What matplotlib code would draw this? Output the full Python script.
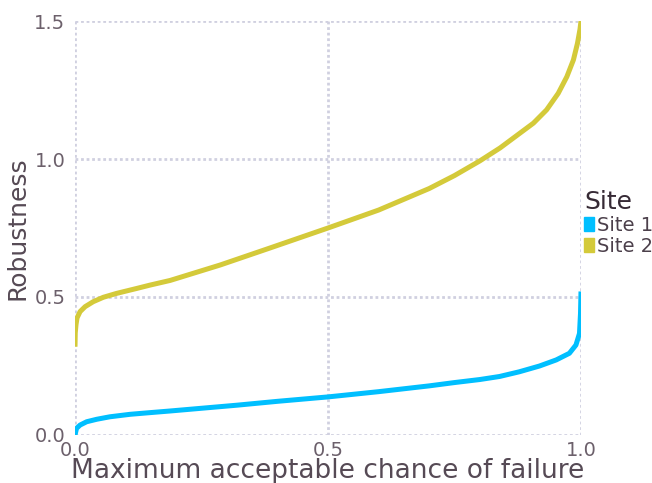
import matplotlib
matplotlib.use("Agg")
import matplotlib.pyplot as plt
from matplotlib.patches import Patch

# values
site1_x = [0.0, 0.003, 0.01, 0.023, 0.043, 0.069, 0.109, 0.148, 0.188, 0.32,
           0.4, 0.5, 0.6, 0.7, 0.75, 0.8, 0.839, 0.878, 0.918, 0.951, 0.977,
           0.99, 0.997, 0.999, 1.0]
site1_y = [0.0, 0.024, 0.036, 0.048, 0.057, 0.066, 0.075, 0.081, 0.087, 0.108,
           0.122, 0.138, 0.157, 0.178, 0.19, 0.201, 0.212, 0.229, 0.25, 0.272, 0.296,
           0.326, 0.368, 0.44, 0.52]

site2_x = [0.0, 0.0005, 0.002, 0.004, 0.01, 0.02, 0.036, 0.056, 0.082, 0.122,
           0.148, 0.188, 0.287, 0.386, 0.5, 0.6, 0.7, 0.75, 0.8, 0.84, 0.873,
           0.906, 0.932, 0.955, 0.972, 0.985, 0.993, 0.998, 1.0]
site2_y = [0.32, 0.37, 0.40, 0.424, 0.447, 0.465, 0.483, 0.499, 0.513, 0.531,
           0.543, 0.56, 0.616, 0.678, 0.75, 0.815, 0.893, 0.94, 0.993, 1.04, 1.085,
           1.13, 1.178, 1.238, 1.298, 1.359, 1.419, 1.47, 1.5]

series = ["Site 1", "Site 2"]
colors = ["#00BFFF", "#D4CA3A"]

x_ticks = [0.0, 0.5, 1.0]
y_ticks = [0.0, 0.5, 1.0, 1.5]

W, H = 652, 483
fig = plt.figure(figsize=(W / 100, H / 100), dpi=100)
ax = fig.add_axes([75 / W, (H - 435) / H, 506 / W, 414 / H])

ax.plot(site1_x, site1_y, color=colors[0], lw=3.6, solid_capstyle="butt",
        solid_joinstyle="round", zorder=3)
ax.plot(site2_x, site2_y, color=colors[1], lw=3.6, solid_capstyle="butt",
        solid_joinstyle="round", zorder=3)

ax.set_xlim(0, 1)
ax.set_ylim(0, 1.5)
ax.set_xticks(x_ticks)
ax.set_yticks(y_ticks)
ax.set_xticklabels([f"{v:.1f}" for v in x_ticks])
ax.set_yticklabels([f"{v:.1f}" for v in y_ticks])
for s in ax.spines.values():
    s.set_visible(False)
ax.tick_params(length=0, labelsize=14, labelcolor="#6c606b")
ax.tick_params(axis="x", pad=4)
ax.tick_params(axis="y", pad=7)
ax.grid(True, color="#D0D0E0", lw=2, ls=(0, (1, 1)), zorder=1)
ax.set_axisbelow(True)

ax.set_xlabel("Maximum acceptable chance of failure", fontsize=19, color="#564a55", labelpad=-1)
ax.set_ylabel("Robustness", fontsize=18, color="#564a55", labelpad=3)

handles = [Patch(color=c, label=s) for s, c in zip(series, colors)]
leg = fig.legend(handles=handles, title="Site", loc="upper left",
                 bbox_to_anchor=(584 / W, 1 - 190 / H), frameon=False,
                 fontsize=14, title_fontsize=18, handlelength=0.5, handleheight=0.7,
                 handletextpad=0.15, labelspacing=0.1, borderaxespad=0, borderpad=0)
leg._legend_box.align = "left"
for t in leg.get_texts():
    t.set_color("#4c404b")
leg.get_title().set_color("#362a35")

fig.savefig("out.png", dpi=100)
